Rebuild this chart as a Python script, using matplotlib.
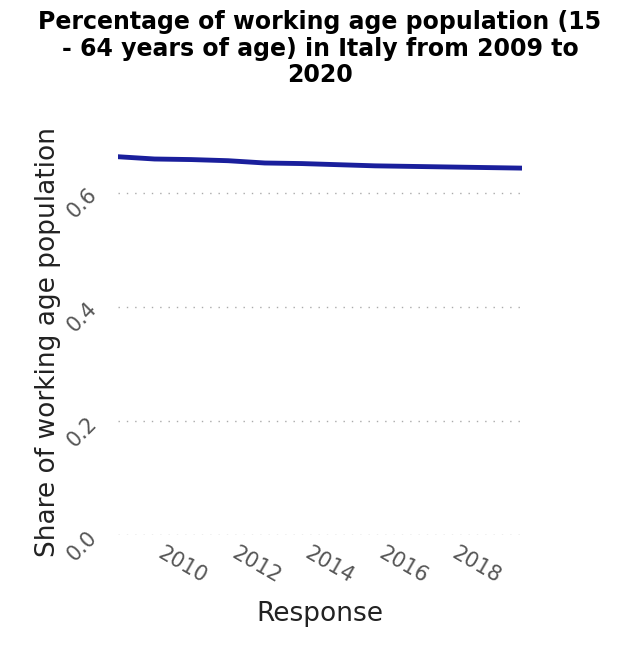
import matplotlib
matplotlib.use("Agg")
import matplotlib.pyplot as plt

years = [2009, 2010, 2011, 2012, 2013, 2014, 2015, 2016, 2017, 2018, 2019, 2020]
share = [0.663, 0.659, 0.658, 0.656, 0.652, 0.651, 0.649, 0.647, 0.646, 0.645, 0.644, 0.643]
yticks = [0.0, 0.2, 0.4, 0.6]
xticks = [2010, 2012, 2014, 2016, 2018]

fig = plt.figure(figsize=(6.4, 6.46), dpi=100)
ax = fig.add_axes([0.184, 0.172, 0.632, 0.596])

ax.plot(years, share, color='#1a1f9c', linewidth=3.5, solid_capstyle='round')

ax.set_xlim(2009, 2020)
ax.set_ylim(0, 0.675)
ax.set_yticks(yticks)
ax.set_yticklabels(['0.0', '0.2', '0.4', '0.6'], rotation=45, fontsize=15, color='#555555')
ax.set_xticks(xticks)
ax.set_xticklabels([str(x) for x in xticks], rotation=-30, ha='left', fontsize=15, color='#555555')
ax.tick_params(axis='y', length=0, pad=12)
ax.tick_params(axis='x', length=0, pad=6)
ax.grid(axis='y', linestyle=(0, (1, 5)), color='#aaaaaa', linewidth=1)
for s in ax.spines.values():
    s.set_visible(False)

ax.set_xlabel('Response', fontsize=19, labelpad=10, color='#222222')
ax.set_ylabel('Share of working age population', fontsize=19, color='#222222', labelpad=2)
fig.suptitle('Percentage of working age population (15\n- 64 years of age) in Italy from 2009 to\n2020',
             fontsize=17, fontweight='bold', y=0.985, linespacing=1.15)

fig.savefig('out.png')
